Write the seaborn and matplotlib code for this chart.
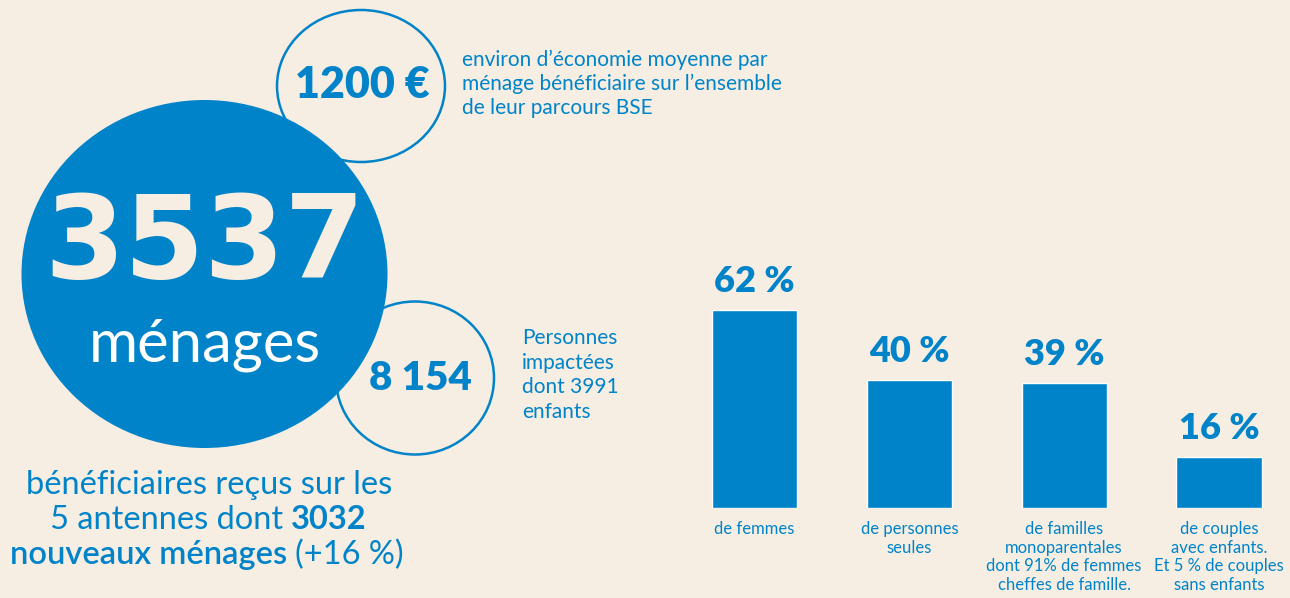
import matplotlib
matplotlib.use("Agg")
import matplotlib.pyplot as plt
from matplotlib.patches import Ellipse
import seaborn as sns
import pandas as pd

# ---------------- data ----------------
categories = ["de femmes",
              "de personnes\nseules",
              "de familles\nmonoparentales\ndont 91% de femmes\ncheffes de famille.",
              "de couples\navec enfants.\nEt 5 % de couples\nsans enfants"]
values = [62, 40, 39, 16]
value_labels = ["62 %", "40 %", "39 %", "16 %"]

big_number = "3537"
big_unit = "ménages"
savings = "1200 €"
savings_text = ["environ d’économie moyenne par",
                "ménage bénéficiaire sur l’ensemble",
                "de leur parcours BSE"]
people = "8 154"
people_text = ["Personnes", "impactées", "dont 3991", "enfants"]

BLUE = "#0083C9"
BG = "#F6EEE2"

sns.set_theme(style="white")
plt.rcParams["font.family"] = ["Lato", "DejaVu Sans"]

fig = plt.figure(figsize=(12.9, 5.98), dpi=100)
fig.patch.set_facecolor(BG)

# pixel-coordinate decoration axes
ax0 = fig.add_axes([0, 0, 1, 1])
ax0.set_xlim(0, 1290)
ax0.set_ylim(598, 0)
ax0.axis("off")
ax0.set_facecolor(BG)

# outline circles (behind big circle)
ax0.add_patch(Ellipse((361, 86), 168, 152, fill=False, ec=BLUE, lw=1.8, zorder=1))
ax0.add_patch(Ellipse((415, 378), 158, 153, fill=False, ec=BLUE, lw=1.8, zorder=1))
# big filled circle
ax0.add_patch(Ellipse((204.5, 274), 366, 348, fc=BLUE, ec="none", zorder=2))

ax0.text(205, 246, big_number, color=BG, fontsize=83, fontweight="bold",
         family="DejaVu Sans", ha="center", va="center", zorder=3)
ax0.text(205, 362, big_unit, color="white", fontsize=43, fontweight="normal",
         ha="center", va="baseline", zorder=3)

ax0.text(362, 85, savings, color=BLUE, fontsize=31, fontweight="heavy",
         ha="center", va="center", zorder=3)
ax0.text(420, 378, people, color=BLUE, fontsize=29, fontweight="heavy",
         ha="center", va="center", zorder=3)

for i, line in enumerate(savings_text):
    ax0.text(462, 66 + 24 * i, line, color=BLUE, fontsize=15,
             ha="left", va="baseline")
for i, line in enumerate(people_text):
    ax0.text(522, 344 + 24.7 * i, line, color=BLUE, fontsize=15,
             ha="left", va="baseline")

# mixed-weight centered lines
renderer = fig.canvas.get_renderer()


def mixed_line(y, parts, cx, size=23.5, gap=8):
    texts = []
    for s, w in parts:
        t = ax0.text(0, y, s, fontsize=size, fontweight=w, color=BLUE,
                     ha="left", va="baseline")
        texts.append(t)
    widths = [t.get_window_extent(renderer).width for t in texts]
    total = sum(widths) + gap * (len(texts) - 1)
    x = cx - total / 2
    for t, w in zip(texts, widths):
        t.set_x(x)
        x += w + gap


mixed_line(494, [("bénéficiaires reçus sur les", "normal")], 209)
mixed_line(529, [("5 antennes dont", "normal"), ("3032", "bold")], 208)
mixed_line(564, [("nouveaux ménages", "semibold"), ("(+16 %)", "normal")], 207)

# ---------------- bar chart ----------------
px_per_unit = 3.2
ymax = 75
left = 677.1 / 1290
width = 619.3 / 1290
bottom = 90 / 598
height = ymax * px_per_unit / 598
axb = fig.add_axes([left, bottom, width, height])
axb.patch.set_alpha(0)

df = pd.DataFrame({"cat": categories, "val": values})
sns.barplot(data=df, x="cat", y="val", color=BLUE, saturation=1,
            width=0.55, ax=axb)
axb.set_ylim(0, ymax)
axb.set_xlim(-0.5, len(categories) - 0.5)
for s in axb.spines.values():
    s.set_visible(False)
axb.set_yticks([])
axb.set_xlabel("")
axb.set_ylabel("")
axb.tick_params(axis="x", length=0, pad=9.5, labelsize=12, labelcolor=BLUE)
for lab in axb.get_xticklabels():
    lab.set_linespacing(1.2)
    lab.set_ha("center")

for i, (v, lab) in enumerate(zip(values, value_labels)):
    axb.annotate(lab, xy=(i, v), xytext=(0, 8.5), textcoords="offset points",
                 ha="center", va="bottom", color=BLUE, fontsize=26,
                 fontweight="heavy")

fig.savefig("out.png", dpi=100, facecolor=BG)
